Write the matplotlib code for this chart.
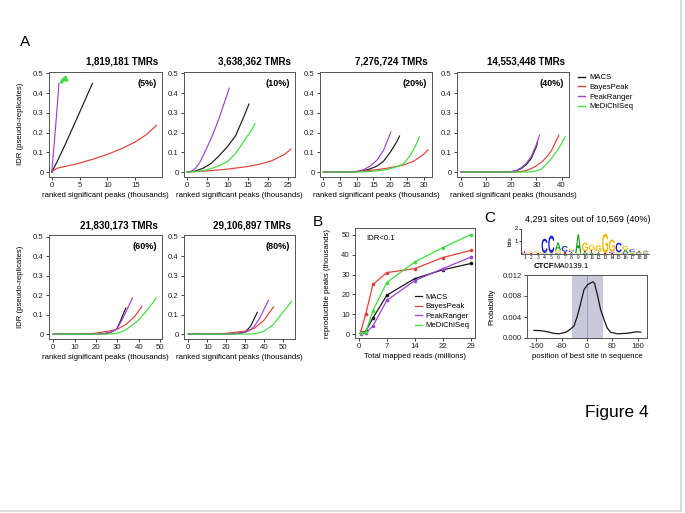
import matplotlib
matplotlib.use('Agg')
import matplotlib.pyplot as plt
from matplotlib.textpath import TextPath
from matplotlib.patches import PathPatch
from matplotlib.font_manager import FontProperties
from matplotlib.transforms import Affine2D
from matplotlib.lines import Line2D

plt.rcParams['font.family'] = ['Liberation Sans', 'DejaVu Sans']
plt.rcParams['axes.unicode_minus'] = False

# ---------------- DATA ----------------
methods = ['MACS', 'BayesPeak', 'PeakRanger', 'MeDiChISeq']
colors = {'MACS': '#1a1a1a', 'BayesPeak': '#e0403a', 'PeakRanger': '#a040d8', 'MeDiChISeq': '#40dd40'}

titles_A = ['1,819,181 TMRs', '3,638,362 TMRs', '7,276,724 TMRs',
            '14,553,448 TMRs', '21,830,173 TMRs', '29,106,897 TMRs']
pct_A = ['(5%)', '(10%)', '(20%)', '(40%)', '(60%)', '(80%)']
xticks_A = [[0, 5, 10, 15], [0, 5, 10, 15, 20, 25], [0, 5, 10, 15, 20, 25, 30],
            [0, 10, 20, 30, 40], [0, 10, 20, 30, 40, 50], [0, 10, 20, 30, 40, 50]]
xlims_A = [(-0.5, 19.8), (-0.8, 26.7), (-1.0, 32.5), (-1.5, 42.9), (-1.9, 50.8), (-2.3, 56.6)]
yticks_A = [0, 0.1, 0.2, 0.3, 0.4, 0.5]
yticklabels_A = ['0', '0.1', '0.2', '0.3', '0.4', '0.5']

# IDR curves (x = thousands of ranked peaks, y = IDR)
p05_macs_x = [0, 1, 2.5, 4, 5.5, 7.3]
p05_macs_y = [0, 0.055, 0.145, 0.24, 0.335, 0.45]
p05_bayes_x = [0, 0.5, 1, 3, 5, 7.5, 10, 12.5, 15, 17, 18.8]
p05_bayes_y = [0, 0.012, 0.02, 0.032, 0.046, 0.066, 0.09, 0.118, 0.153, 0.19, 0.237]
p05_pr_x = [0, 0.6, 1.3]
p05_pr_y = [0, 0.2, 0.45]
p05_medi_x = [1.75, 2.0, 2.3]
p05_medi_y = [0.455, 0.468, 0.475]

p10_macs_x = [0, 2, 4, 6, 8, 10, 12, 14, 15.3]
p10_macs_y = [0, 0.005, 0.02, 0.045, 0.085, 0.13, 0.185, 0.28, 0.345]
p10_bayes_x = [0, 5, 10, 15, 18, 21, 24, 25.7]
p10_bayes_y = [0, 0.006, 0.015, 0.028, 0.04, 0.058, 0.088, 0.117]
p10_pr_x = [0, 1, 2, 3, 4, 5, 6, 7, 8, 9, 10.4]
p10_pr_y = [0, 0.005, 0.018, 0.045, 0.085, 0.13, 0.175, 0.225, 0.28, 0.34, 0.425]
p10_medi_x = [0, 2, 4, 6, 8, 10, 12, 14, 16, 16.8]
p10_medi_y = [0, 0.002, 0.008, 0.018, 0.033, 0.054, 0.095, 0.155, 0.215, 0.246]

p20_macs_x = [0, 8, 10, 12, 14, 16, 18, 20, 22, 22.8]
p20_macs_y = [0, 0, 0.002, 0.007, 0.016, 0.03, 0.055, 0.1, 0.155, 0.183]
p20_bayes_x = [0, 8, 12, 16, 20, 24, 27, 30, 31.3]
p20_bayes_y = [0, 0.001, 0.005, 0.012, 0.022, 0.036, 0.055, 0.09, 0.113]
p20_pr_x = [0, 8, 10, 12, 14, 16, 18, 20.2]
p20_pr_y = [0, 0, 0.003, 0.012, 0.03, 0.06, 0.11, 0.203]
p20_medi_x = [0, 10, 14, 18, 20, 22, 24, 26, 27, 28, 28.7]
p20_medi_y = [0, 0, 0.003, 0.01, 0.017, 0.027, 0.042, 0.085, 0.115, 0.148, 0.178]

p40_macs_x = [0, 18, 20, 22, 24, 26, 28, 30, 30.4]
p40_macs_y = [0, 0, 0.002, 0.007, 0.018, 0.038, 0.07, 0.13, 0.15]
p40_bayes_x = [0, 20, 24, 26, 28, 30, 32, 34, 36, 38.9]
p40_bayes_y = [0, 0, 0.003, 0.008, 0.018, 0.032, 0.05, 0.075, 0.11, 0.187]
p40_pr_x = [0, 18, 20, 22, 24, 26, 28, 30, 31.2]
p40_pr_y = [0, 0, 0.002, 0.008, 0.022, 0.045, 0.08, 0.14, 0.187]
p40_medi_x = [0, 26, 28, 30, 32, 34, 36, 38, 40, 41.3]
p40_medi_y = [0, 0, 0.002, 0.006, 0.015, 0.04, 0.07, 0.105, 0.145, 0.178]

p60_macs_x = [0, 20, 24, 27, 29.7, 31.5, 33.9]
p60_macs_y = [0, 0, 0.003, 0.01, 0.026, 0.07, 0.134]
p60_bayes_x = [0, 16, 20, 24, 28, 30, 34, 38, 41.4]
p60_bayes_y = [0, 0.001, 0.005, 0.012, 0.02, 0.026, 0.05, 0.09, 0.143]
p60_pr_x = [0, 20, 24, 27, 29.7, 32, 34, 37]
p60_pr_y = [0, 0, 0.003, 0.01, 0.026, 0.07, 0.115, 0.186]
p60_medi_x = [0, 26, 30, 33, 35, 38, 40, 44, 48.1]
p60_medi_y = [0, 0, 0.005, 0.017, 0.031, 0.055, 0.074, 0.125, 0.186]

p80_macs_x = [0, 20, 25, 30, 33, 36.6]
p80_macs_y = [0, 0, 0.003, 0.01, 0.04, 0.112]
p80_bayes_x = [0, 15, 20, 25, 30, 35, 40, 45.2]
p80_bayes_y = [0, 0.001, 0.004, 0.01, 0.015, 0.03, 0.07, 0.14]
p80_pr_x = [0, 20, 25, 30, 33, 35, 38, 42.5]
p80_pr_y = [0, 0, 0.002, 0.008, 0.022, 0.04, 0.085, 0.174]
p80_medi_x = [0, 30, 35, 40, 45, 50, 54.8]
p80_medi_y = [0, 0, 0.002, 0.014, 0.048, 0.11, 0.169]

# Panel B: reproducible peaks (thousands) vs total mapped reads (millions)
B_reads = [0.45, 1.82, 3.64, 7.28, 14.55, 21.83, 29.11]
B_macs = [0.5, 1.5, 8, 19.6, 28, 32.4, 35.6]
B_bayes = [1.0, 10.2, 25, 31, 33, 38.6, 42.2]
B_pr = [0.2, 0.5, 4, 17, 27, 33, 38.8]
B_medi = [0.5, 1.0, 11.8, 26, 36.4, 43.6, 50.2]
B_xtick_pos = [0, 7.28, 14.55, 21.83, 29.11]
B_xtick_lab = ['0', '7', '14', '22', '29']

# Panel C: CentriMo-like site distribution
C_pos = [-168, -147, -126, -104, -89, -67, -52, -41, -31, -20, -9.5, 1, 11.6, 19, 24,
         33, 43, 54, 64, 75, 96, 128, 159, 170]
C_prob = [0.00145, 0.0014, 0.0012, 0.00088, 0.0008, 0.0011, 0.0017, 0.0023, 0.0041, 0.0066,
          0.0092, 0.0101, 0.0105, 0.0107, 0.0104, 0.0082, 0.0054, 0.0035, 0.0019, 0.0011,
          0.0008, 0.0009, 0.0012, 0.0011]
C_region = (-48, 50)

# Motif logo (letter, height in bits), bottom to top per position
logo_stacks = [
    [('G', 0.05), ('C', 0.07), ('T', 0.15)],
    [('A', 0.04), ('T', 0.05), ('G', 0.08)],
    [('A', 0.05), ('T', 0.06), ('G', 0.12)],
    [('G', 0.05), ('A', 0.06), ('C', 1.1)],
    [('T', 0.05), ('A', 0.05), ('C', 1.35)],
    [('C', 0.1), ('G', 0.2), ('A', 0.6)],
    [('G', 0.05), ('T', 0.15), ('C', 0.45)],
    [('A', 0.08), ('T', 0.1), ('C', 0.12), ('G', 0.1)],
    [('G', 0.1), ('A', 1.45)],
    [('A', 0.15), ('T', 0.1), ('G', 0.65)],
    [('A', 0.1), ('T', 0.25), ('G', 0.35)],
    [('A', 0.1), ('T', 0.1), ('G', 0.5)],
    [('A', 0.05), ('T', 0.05), ('G', 1.5)],
    [('A', 0.05), ('T', 0.05), ('C', 0.1), ('G', 0.95)],
    [('T', 0.05), ('G', 0.1), ('C', 0.75)],
    [('C', 0.1), ('A', 0.25), ('G', 0.3)],
    [('A', 0.08), ('G', 0.1), ('C', 0.2)],
    [('G', 0.05), ('C', 0.06), ('A', 0.08), ('T', 0.1)],
    [('T', 0.05), ('C', 0.05), ('G', 0.08), ('A', 0.1)],
]
logo_colors = {'A': '#1fa01f', 'C': '#1c1cd0', 'G': '#f2b800', 'T': '#d01c1c'}

# ---------------- FIGURE ----------------
W, H = 685, 513
fig = plt.figure(figsize=(W / 100, H / 100), dpi=100)


def ax_px(l, t, r, b):
    return fig.add_axes([l / W, 1 - b / H, (r - l) / W, (b - t) / H])


def style(ax, fs=5.6):
    ax.tick_params(direction='out', length=2.5, width=0.6, labelsize=fs, pad=1.2, colors='#222222')
    for s in ax.spines.values():
        s.set_linewidth(0.7)
        s.set_color('#555555')


A_boxes = [(49, 71.5, 162, 177), (184, 71.5, 295, 177), (320, 71.5, 432, 177), (457, 71.5, 569, 177),
           (49, 235, 162, 339), (184, 235, 295, 339)]
A_curves = [
    [(p05_macs_x, p05_macs_y), (p05_bayes_x, p05_bayes_y), (p05_pr_x, p05_pr_y), (p05_medi_x, p05_medi_y)],
    [(p10_macs_x, p10_macs_y), (p10_bayes_x, p10_bayes_y), (p10_pr_x, p10_pr_y), (p10_medi_x, p10_medi_y)],
    [(p20_macs_x, p20_macs_y), (p20_bayes_x, p20_bayes_y), (p20_pr_x, p20_pr_y), (p20_medi_x, p20_medi_y)],
    [(p40_macs_x, p40_macs_y), (p40_bayes_x, p40_bayes_y), (p40_pr_x, p40_pr_y), (p40_medi_x, p40_medi_y)],
    [(p60_macs_x, p60_macs_y), (p60_bayes_x, p60_bayes_y), (p60_pr_x, p60_pr_y), (p60_medi_x, p60_medi_y)],
    [(p80_macs_x, p80_macs_y), (p80_bayes_x, p80_bayes_y), (p80_pr_x, p80_pr_y), (p80_medi_x, p80_medi_y)],
]

for i, box in enumerate(A_boxes):
    ax = ax_px(*box)
    style(ax)
    for m, (xs, ys) in zip(methods, A_curves[i]):
        if i == 0 and m == 'MeDiChISeq':
            ax.plot(xs, ys, color=colors[m], lw=2.2, solid_capstyle='round')
            ax.plot(xs[-1:], ys[-1:], marker='^', color=colors[m], ms=3.5)
        else:
            ax.plot(xs, ys, color=colors[m], lw=0.85)
    ax.set_xlim(*xlims_A[i])
    ax.set_ylim(-0.025, 0.51)
    ax.set_xticks(xticks_A[i])
    ax.set_yticks(yticks_A)
    ax.set_yticklabels(yticklabels_A)
    ax.set_xlabel('ranked significant peaks (thousands)', fontsize=5.6, labelpad=2)
    w = box[2] - box[0]
    ax.text(1 - 4 / w, 1 + 10 / (box[3] - box[1]), titles_A[i], transform=ax.transAxes,
            ha='right', va='center', fontsize=7, fontweight='bold')
    ax.text(1 - 5 / w, 0.45, pct_A[i], transform=ax.get_yaxis_transform(),
            ha='right', va='center', fontsize=6.5, fontweight='bold')
    if i in (0, 4):
        ax.set_ylabel('IDR (pseudo-replicates)', fontsize=5.6)
        ax.yaxis.set_label_coords(-25 / w, 0.5)

# Legend for A
handles = [Line2D([], [], color=colors[m], lw=1.0) for m in methods]
fig.legend(handles, methods, loc='upper left', bbox_to_anchor=(578 / W, 1 - 74 / H),
           frameon=False, fontsize=5.6, handlelength=0.9, handletextpad=0.5,
           labelspacing=0.28, borderpad=0, borderaxespad=0)

# Panel B
axB = ax_px(355, 228, 475, 338)
style(axB)
for m, ys in zip(methods, [B_macs, B_bayes, B_pr, B_medi]):
    axB.plot(B_reads, ys, color=colors[m], lw=0.9, marker='o', ms=1.6, label=m)
axB.set_xlim(-1, 30.2)
axB.set_ylim(-2, 53.5)
axB.set_xticks(B_xtick_pos)
axB.set_xticklabels(B_xtick_lab)
axB.set_yticks([0, 10, 20, 30, 40, 50])
axB.set_xlabel('Total mapped reads (millions)', fontsize=5.6, labelpad=2)
axB.set_ylabel('reproducible peaks (thousands)', fontsize=5.6)
axB.yaxis.set_label_coords(-24 / 120, 0.5)
axB.text(0.09, 0.9, 'IDR<0.1', transform=axB.transAxes, fontsize=5.6, va='center')
axB.legend(loc='lower right', bbox_to_anchor=(1.0, 0.03), frameon=False, fontsize=5.6,
           handlelength=0.9, handletextpad=0.5, labelspacing=0.25, borderpad=0.2)
for hl in axB.get_legend().get_lines():
    hl.set_marker('')

# Panel C: logo
axL = ax_px(521, 228.5, 649, 254.3)
fp = FontProperties(family='Liberation Sans', weight='bold')
for pi, stack in enumerate(logo_stacks):
    ybase = 0.0
    xc = pi + 1
    for ch, h in stack:
        tp = TextPath((0, 0), ch, size=1, prop=fp)
        bb = tp.get_extents()
        wl = 0.9
        tr = Affine2D().translate(-bb.x0, -bb.y0).scale(wl / bb.width, h / bb.height).translate(xc - wl / 2, ybase)
        axL.add_patch(PathPatch(tr.transform_path(tp), fc=logo_colors[ch], ec='none'))
        ybase += h
axL.set_xlim(0.5, 19.5)
axL.set_ylim(0, 2.0)
axL.set_yticks([1, 2])
axL.set_xticks(range(1, 20))
axL.set_xticklabels([str(i) for i in range(1, 20)], fontsize=4, family='Liberation Serif')
axL.tick_params(axis='x', length=0, pad=0.8)
axL.tick_params(axis='y', length=1.5, width=0.5, labelsize=4.2, pad=0.8)
for s in ['top', 'right']:
    axL.spines[s].set_visible(False)
axL.spines['left'].set_linewidth(0.5)
axL.spines['bottom'].set_linewidth(0.6)
axL.spines['bottom'].set_color('#444444')
axL.set_ylabel('bits', fontsize=4.5, labelpad=1)
axL.patch.set_alpha(0)

# Panel C: profile
axC = ax_px(527, 275, 647, 338)
style(axC)
axC.axvspan(C_region[0], C_region[1], color='#c9c9dc', lw=0)
axC.axvline(0, color='#8a8a9a', lw=0.5)
axC.plot(C_pos, C_prob, color='#1a1a1a', lw=0.9)
axC.set_xlim(-190, 190)
axC.set_ylim(0, 0.012)
axC.set_xticks([-160, -80, 0, 80, 160])
axC.set_yticks([0, 0.004, 0.008, 0.012])
axC.set_yticklabels(['0.000', '0.004', '0.008', '0.012'])
axC.set_xlabel('position of best site in sequence', fontsize=5.6, labelpad=2)
axC.set_ylabel('Probability', fontsize=5.6)
axC.yaxis.set_label_coords(-32 / 120, 0.5)

# Figure texts
fig.text(25 / W, 1 - 42 / H, 'A', fontsize=11, ha='center', va='center')
fig.text(318 / W, 1 - 222 / H, 'B', fontsize=11, ha='center', va='center')
fig.text(490 / W, 1 - 218 / H, 'C', fontsize=11, ha='center', va='center')
fig.text(588 / W, 1 - 220 / H, '4,291 sites out of 10,569 (40%)', fontsize=6.5, ha='center', va='center')
fig.text(534 / W, 1 - 267 / H, 'CTCF', fontsize=5.6, fontweight='bold', ha='left', va='center')
fig.text(553 / W, 1 - 267 / H, 'MA0139.1', fontsize=5.6, ha='left', va='center')
fig.text(617 / W, 1 - 413 / H, 'Figure 4', fontsize=12.5, ha='center', va='center')

# page border
fig.add_artist(Line2D([681 / W, 681 / W], [1 - 511 / H, 1], color='#d4d4d4', lw=1.2))
fig.add_artist(Line2D([0, 681 / W], [1 - 511 / H, 1 - 511 / H], color='#d4d4d4', lw=1.2))

fig.savefig('out.png', dpi=100)
